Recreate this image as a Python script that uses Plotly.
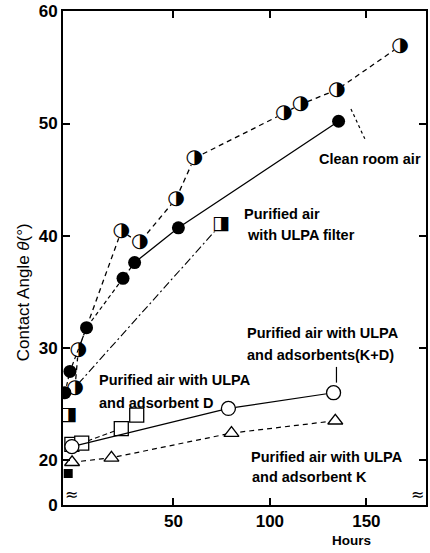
import plotly.graph_objects as go

# ---- data (hours, contact angle in degrees) ----
clean_x = [-1.0, 0.7, 23.0, 32.5, 51.4, 60.8, 107.2, 115.8, 134.7, 167.4]
clean_y = [26.4, 29.8, 40.4, 39.4, 43.3, 46.9, 50.9, 51.7, 53.0, 56.9]

filter_x = [-6.2, -3.6, 5.0, 23.9, 29.9, 52.6, 135.6]
filter_y = [26.0, 27.9, 31.8, 36.2, 37.6, 40.7, 50.2]

filter_sq_x = [-4.5, 74.6]
filter_sq_y = [24.0, 41.0]
filter_curve_x = [0.7, 74.6]
filter_curve_y = [26.8, 41.0]

d_x = [-2.6, 2.5, 23.0, 31.0]
d_y = [21.4, 21.5, 22.8, 24.0]

kd_x = [-2.6, 78.5, 133.0]
kd_y = [21.2, 24.6, 26.0]

k_x = [-2.5, 17.9, 80.1, 133.9]
k_y = [19.8, 20.2, 22.4, 23.5]

init_x = [-4.5]
init_y = [18.8]

y_tickvals = [16, 20, 30, 40, 50, 60]
y_ticktext = ["0", "20", "30", "40", "50", "60"]
x_tickvals = [50, 100, 150]
x_ticktext = ["50", "100", "150"]

fig = go.Figure()

# Clean room air (half-filled circles, dashed)
fig.add_trace(go.Scatter(
    x=clean_x, y=clean_y, mode="lines+markers+text",
    line=dict(color="black", width=1.3, dash="5px,4px"),
    marker=dict(symbol="circle", size=15, color="white"),
    text=["◑"] * len(clean_x), textposition="middle center",
    textfont=dict(family="DejaVu Sans", size=20, color="black"),
    showlegend=False))

# Purified air with ULPA filter (filled circles)
fig.add_trace(go.Scatter(
    x=filter_x[:5], y=filter_y[:5], mode="lines",
    line=dict(color="black", width=1.2, dash="4px,3px"), showlegend=False))
fig.add_trace(go.Scatter(
    x=filter_x[4:], y=filter_y[4:], mode="lines",
    line=dict(color="black", width=1.3), showlegend=False))
fig.add_trace(go.Scatter(
    x=filter_x, y=filter_y, mode="markers",
    marker=dict(symbol="circle", size=13, color="black"), showlegend=False))

# half-filled squares with dash-dot curve
fig.add_trace(go.Scatter(
    x=filter_curve_x, y=filter_curve_y, mode="lines",
    line=dict(color="black", width=1.1, dash="8px,3px,2px,3px"), showlegend=False))
fig.add_trace(go.Scatter(
    x=filter_sq_x, y=filter_sq_y, mode="markers+text",
    marker=dict(symbol="square", size=14, color="white"),
    text=["◨"] * len(filter_sq_x), textposition="middle center",
    textfont=dict(family="DejaVu Sans", size=19, color="black"),
    showlegend=False))

# adsorbent D (open squares, dashed)
fig.add_trace(go.Scatter(
    x=d_x, y=d_y, mode="lines+markers",
    line=dict(color="black", width=1.1, dash="5px,3px"),
    marker=dict(symbol="square", size=14, color="white",
                line=dict(color="black", width=1.3)),
    showlegend=False))

# adsorbents K+D (open circles, solid)
fig.add_trace(go.Scatter(
    x=kd_x, y=kd_y, mode="lines+markers",
    line=dict(color="black", width=1.2),
    marker=dict(symbol="circle", size=14, color="white",
                line=dict(color="black", width=1.3)),
    showlegend=False))

# adsorbent K (open triangles, dashed)
fig.add_trace(go.Scatter(
    x=k_x, y=k_y, mode="lines+markers",
    line=dict(color="black", width=1.2, dash="5px,4px"),
    marker=dict(symbol="triangle-up", size=13, color="white",
                line=dict(color="black", width=1.3)),
    showlegend=False))

fig.add_trace(go.Scatter(
    x=init_x, y=init_y, mode="markers",
    marker=dict(symbol="square", size=9, color="black"), showlegend=False))

lab = dict(family="Liberation Sans", size=14.5, color="black", weight="bold")
anns = [
    ("Clean room air", 124.2, 46.85),
    ("Purified air", 85.6, 41.9),
    ("with ULPA filter", 87.0, 40.1),
    ("Purified air with ULPA", 87.1, 31.3),
    ("and adsorbents(K+D)", 87.1, 29.4),
    ("Purified air with ULPA", 10.3, 27.15),
    ("and adsorbent D", 10.3, 25.1),
    ("Purified air with ULPA", 89.2, 20.3),
    ("and adsorbent K", 89.8, 18.45),
]
for t, ax_, ay_ in anns:
    fig.add_annotation(x=ax_, y=ay_, text=t, showarrow=False, xanchor="left",
                       yanchor="middle", font=lab)

fig.add_annotation(x=0.855, y=-0.092, xref="paper", yref="paper", text="Hours",
                   showarrow=False, yanchor="bottom",
                   font=dict(family="Liberation Sans", size=13.5,
                             color="black", weight="bold"))
fig.add_annotation(x=-0.14, y=0.43, xref="paper", yref="paper",
                   text="Contact Angle <i>θ</i>(°)", textangle=-90, showarrow=False,
                   font=dict(family="Liberation Sans", size=17, color="black"))
# axis break marks
for xp in (0, 1):
    fig.add_annotation(x=xp, y=16.9, xref="paper", yref="y", text="≈",
                       showarrow=False, font=dict(family="DejaVu Sans", size=16,
                                                  color="black"))

# pointers
fig.add_shape(type="line", x0=142, y0=51.3, x1=149.3, y1=48.6,
              line=dict(color="black", width=1.2, dash="dot"))
fig.add_shape(type="line", x0=134.5, y0=28.3, x1=134.5, y1=26.9,
              line=dict(color="black", width=1.2))

tick_font = dict(family="Liberation Sans", size=17, color="black", weight="bold")
fig.update_xaxes(range=[-7.2, 180.9], tickvals=x_tickvals, ticktext=x_ticktext,
                 ticks="inside", ticklen=7, tickwidth=2, tickcolor="black",
                 showline=True, linecolor="black", linewidth=2, mirror="ticks",
                 showgrid=False, zeroline=False, tickfont=tick_font)
fig.update_yaxes(range=[15.99, 60.03], tickvals=y_tickvals, ticktext=y_ticktext,
                 ticks="inside", ticklen=7, tickwidth=2, tickcolor="black",
                 showline=True, linecolor="black", linewidth=2, mirror="ticks",
                 showgrid=False, zeroline=False, tickfont=tick_font)
fig.update_layout(width=430, height=553, margin=dict(l=63, r=2, t=9, b=48),
                  plot_bgcolor="white", paper_bgcolor="white")

fig.write_html("out.html")
